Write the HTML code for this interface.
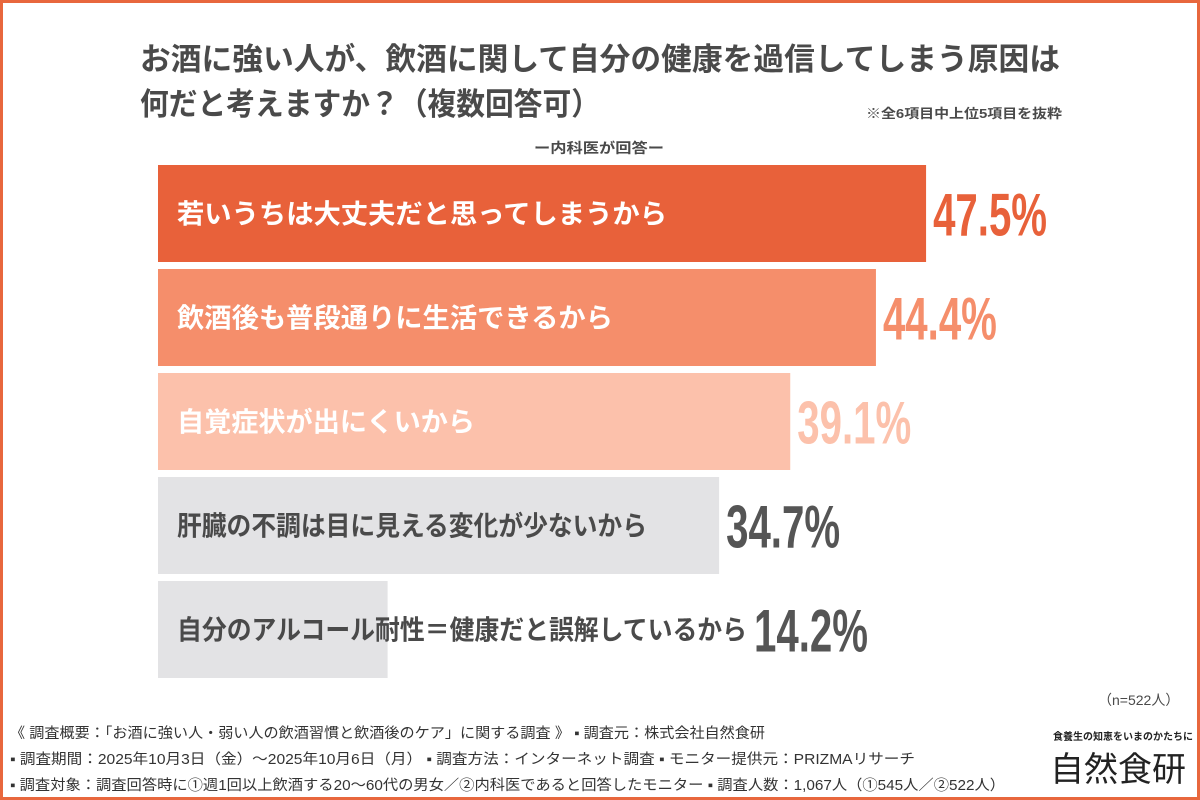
<!DOCTYPE html>
<html><head><meta charset="utf-8">
<style>
body{margin:0;width:1200px;height:800px;overflow:hidden;background:#fff;font-family:"Liberation Sans","Noto Sans CJK JP",sans-serif;}
#frame{position:absolute;left:0;top:0;width:1194px;height:794px;border:3px solid #e8673d;background:#fff;}
.t{position:absolute;color:#4a4a4a;white-space:nowrap;}
</style></head><body>
<div id="frame"></div>
<svg id="chart" width="1200" height="800" style="position:absolute;left:0;top:0">
<text x="140" y="70" font-size="31" font-weight="bold" fill="#4a4a4a" textLength="920" lengthAdjust="spacingAndGlyphs">お酒に強い人が、飲酒に関して自分の健康を過信してしまう原因は</text>
<text x="140" y="115" font-size="31" font-weight="bold" fill="#4a4a4a" textLength="460" lengthAdjust="spacingAndGlyphs">何だと考えますか？（複数回答可）</text>
<text x="866" y="118" font-size="13" font-weight="bold" fill="#4a4a4a" textLength="196" lengthAdjust="spacingAndGlyphs">※全6項目中上位5項目を抜粋</text>
<text x="534" y="153" font-size="14" font-weight="bold" fill="#4a4a4a" textLength="130" lengthAdjust="spacingAndGlyphs">ー内科医が回答ー</text>
<text x="10" y="738" font-size="14.5" fill="#333" textLength="755" lengthAdjust="spacingAndGlyphs">《 調査概要：「お酒に強い人・弱い人の飲酒習慣と飲酒後のケア」に関する調査 》 ▪ 調査元：株式会社自然食研</text>
<text x="10" y="764" font-size="14.5" fill="#333" textLength="905" lengthAdjust="spacingAndGlyphs">▪ 調査期間：2025年10月3日（金）～2025年10月6日（月） ▪ 調査方法：インターネット調査 ▪ モニター提供元：PRIZMAリサーチ</text>
<text x="10" y="790" font-size="14.5" fill="#333" textLength="995" lengthAdjust="spacingAndGlyphs">▪ 調査対象：調査回答時に①週1回以上飲酒する20～60代の男女／②内科医であると回答したモニター ▪ 調査人数：1,067人（①545人／②522人）</text>
</svg>
<div class="t" style="left:1098px;top:690px;font-size:14px;">（n=522人）</div>
<div class="t" style="left:1053px;top:728px;font-size:10px;font-weight:bold;color:#222;">食養生の知恵をいまのかたちに</div>
<div class="t" style="left:1050px;top:742px;font-size:34px;color:#222;">自然食研</div>
<script>
const categories=["若いうちは大丈夫だと思ってしまうから","飲酒後も普段通りに生活できるから","自覚症状が出にくいから","肝臓の不調は目に見える変化が少ないから","自分のアルコール耐性＝健康だと誤解しているから"];
const values=[47.5,44.4,39.1,34.7,14.2];
const valueLabels=["47.5%","44.4%","39.1%","34.7%","14.2%"];
const barColors=["#e8613a","#f58e6b","#fcc1ab","#e3e3e5","#e3e3e5"];
const labelColors=["#e8613a","#f58e6b","#fcc1ab","#555555","#555555"];
const textColors=["#fff","#fff","#fff","#4a4a4a","#4a4a4a"];
const textWidths=[490,436,298,470,570];
const svg=document.getElementById('chart');const NS='http://www.w3.org/2000/svg';
const x0=158,pxPer=16.17;const xs=v=>x0+v*pxPer;
const ys=i=>165+i*104;const bh=97;
categories.forEach((c,i)=>{
 const r=document.createElementNS(NS,'rect');
 r.setAttribute('x',x0);r.setAttribute('y',ys(i));r.setAttribute('width',xs(values[i])-x0);r.setAttribute('height',bh);r.setAttribute('fill',barColors[i]);
 
 
 svg.appendChild(r);
 const t=document.createElementNS(NS,'text');
 t.setAttribute('x',177);t.setAttribute('y',ys(i)+bh/2+10);t.setAttribute('fill',textColors[i]);
 t.setAttribute('font-size','27');t.setAttribute('font-weight','bold');
 t.setAttribute('textLength',textWidths[i]);t.setAttribute('lengthAdjust','spacingAndGlyphs');
 t.textContent=c;
 
 
 svg.appendChild(t);
 const vx=Math.max(xs(values[i]),177+textWidths[i])+7;
 const v=document.createElementNS(NS,'text');
 v.setAttribute('x',vx);v.setAttribute('y',ys(i)+bh/2+22);v.setAttribute('fill',labelColors[i]);
 v.setAttribute('font-size','60');v.setAttribute('font-weight','bold');
 v.setAttribute('textLength','114');v.setAttribute('lengthAdjust','spacingAndGlyphs');
 v.textContent=valueLabels[i];
 
 
 svg.appendChild(v);
});
</script>
</body></html>
